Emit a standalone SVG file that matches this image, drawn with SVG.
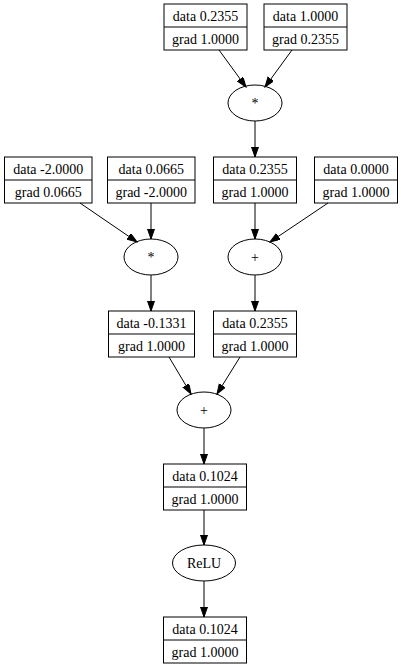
<svg xmlns="http://www.w3.org/2000/svg" width="401" height="665" viewBox="0 0 401 665">
<style>
.bg{fill:#ffffff}
.n rect,.n ellipse{fill:none;stroke:#000;stroke-width:1}
.n line{stroke:#000;stroke-width:1}
text{font-family:"Liberation Serif","Times New Roman",serif;font-size:14px;fill:#000;text-anchor:middle}
.e line{stroke:#000;stroke-width:1;marker-end:url(#ah)}
</style>
<defs>
<marker id="ah" markerUnits="userSpaceOnUse" markerWidth="11" markerHeight="8" refX="10" refY="3.5" orient="auto">
<polygon points="0,0 10,3.5 0,7" fill="#000" stroke="#000"/>
</marker>
</defs>
<rect class="bg" x="0" y="0" width="401" height="665"/>
<g id="edges" class="e">
<line x1="219" y1="50" x2="246" y2="87"/>
<line x1="292" y1="50" x2="265" y2="87"/>
<line x1="255" y1="121" x2="255" y2="157"/>
<line x1="80" y1="203" x2="137" y2="242"/>
<line x1="151" y1="203" x2="151" y2="239"/>
<line x1="255" y1="203" x2="255" y2="239"/>
<line x1="328" y1="203" x2="270" y2="242"/>
<line x1="151" y1="275" x2="151" y2="311"/>
<line x1="255" y1="275" x2="255" y2="311"/>
<line x1="169" y1="357" x2="191" y2="394"/>
<line x1="240" y1="357" x2="217" y2="394"/>
<line x1="204" y1="428" x2="204" y2="464"/>
<line x1="204" y1="510" x2="204" y2="545"/>
<line x1="204" y1="581" x2="204" y2="617"/>
</g>
<g id="nA" class="n"><rect x="164" y="4" width="83" height="46"/><line x1="164" y1="27" x2="247" y2="27"/><text x="205.5" y="20.5">data 0.2355</text><text x="205.5" y="43.5">grad 1.0000</text></g>
<g id="nB" class="n"><rect x="264" y="4" width="83" height="46"/><line x1="264" y1="27" x2="347" y2="27"/><text x="305.5" y="20.5">data 1.0000</text><text x="305.5" y="43.5">grad 0.2355</text></g>
<g id="mul1" class="n"><ellipse cx="255" cy="103" rx="27" ry="18"/><text x="255" y="107.5">*</text></g>
<g id="nC" class="n"><rect x="4.5" y="157" width="87.5" height="46"/><line x1="4.5" y1="180" x2="92" y2="180"/><text x="48.25" y="173.5">data -2.0000</text><text x="48.25" y="196.5">grad 0.0665</text></g>
<g id="nD" class="n"><rect x="107.5" y="157" width="87.5" height="46"/><line x1="107.5" y1="180" x2="195" y2="180"/><text x="151.25" y="173.5">data 0.0665</text><text x="151.25" y="196.5">grad -2.0000</text></g>
<g id="nE" class="n"><rect x="213.5" y="157" width="83" height="46"/><line x1="213.5" y1="180" x2="296.5" y2="180"/><text x="255" y="173.5">data 0.2355</text><text x="255" y="196.5">grad 1.0000</text></g>
<g id="nF" class="n"><rect x="314.5" y="157" width="83" height="46"/><line x1="314.5" y1="180" x2="397.5" y2="180"/><text x="356" y="173.5">data 0.0000</text><text x="356" y="196.5">grad 1.0000</text></g>
<g id="mul2" class="n"><ellipse cx="151" cy="257" rx="27" ry="18"/><text x="151" y="261.5">*</text></g>
<g id="add1" class="n"><ellipse cx="255" cy="257" rx="27" ry="18"/><text x="255" y="261.5">+</text></g>
<g id="nG" class="n"><rect x="108.5" y="311" width="86" height="46"/><line x1="108.5" y1="334" x2="194.5" y2="334"/><text x="151.5" y="327.5">data -0.1331</text><text x="151.5" y="350.5">grad 1.0000</text></g>
<g id="nH" class="n"><rect x="213.5" y="311" width="83" height="46"/><line x1="213.5" y1="334" x2="296.5" y2="334"/><text x="255" y="327.5">data 0.2355</text><text x="255" y="350.5">grad 1.0000</text></g>
<g id="add2" class="n"><ellipse cx="204" cy="410" rx="27" ry="18"/><text x="204" y="414.5">+</text></g>
<g id="nI" class="n"><rect x="163.5" y="464" width="83" height="46"/><line x1="163.5" y1="487" x2="246.5" y2="487"/><text x="205" y="480.5">data 0.1024</text><text x="205" y="503.5">grad 1.0000</text></g>
<g id="relu" class="n"><ellipse cx="204" cy="563" rx="31.5" ry="18"/><text x="204" y="567.5">ReLU</text></g>
<g id="nJ" class="n"><rect x="163.5" y="617" width="83" height="46"/><line x1="163.5" y1="640" x2="246.5" y2="640"/><text x="205" y="633.5">data 0.1024</text><text x="205" y="656.5">grad 1.0000</text></g>
</svg>
